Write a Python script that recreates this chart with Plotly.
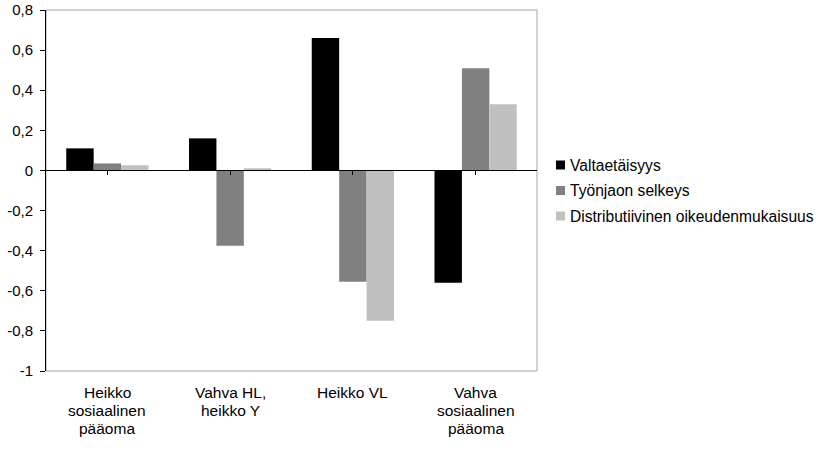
import plotly.graph_objects as go

# Categories and series values
categories = ["Heikko<br>sosiaalinen<br>pääoma", "Vahva HL,<br>heikko Y", "Heikko VL", "Vahva<br>sosiaalinen<br>pääoma"]
series_names = ["Valtaetäisyys", "Työnjaon selkeys", "Distributiivinen oikeudenmukaisuus"]
valtaetaisyys = [0.11, 0.16, 0.66, -0.56]
tyonjaon_selkeys = [0.035, -0.375, -0.555, 0.51]
distributiivinen = [0.026, 0.011, -0.75, 0.33]
series_values = [valtaetaisyys, tyonjaon_selkeys, distributiivinen]
series_colors = ["#000000", "#808080", "#c0c0c0"]

y_tickvals = [0.8, 0.6, 0.4, 0.2, 0, -0.2, -0.4, -0.6, -0.8, -1]
y_ticktext = ["0,8", "0,6", "0,4", "0,2", "0", "-0,2", "-0,4", "-0,6", "-0,8", "-1"]

W, H = 822, 451
L, R, T, B = 46, 537, 10, 371
y_range = [-1, 0.8]
FONT = "Liberation Sans, Arial, sans-serif"
LABEL_LINE_GAP = 18


def px_x(x):
    return (x - L) / (R - L)


def px_y(y):
    return (B - y) / (B - T)


cat_idx = list(range(len(categories)))

fig = go.Figure()
for name, vals, col in zip(series_names, series_values, series_colors):
    fig.add_trace(go.Bar(x=cat_idx, y=vals, name=name, marker=dict(color=col, line=dict(width=0)),
                         showlegend=False))

# Grey frame around the plot area
fig.add_shape(type="rect", xref="paper", yref="paper", x0=0, x1=1, y0=0, y1=1,
              line=dict(color="#a6a6a6", width=1), layer="below")

# Category labels below the plot area, one annotation per text line
for i, c in enumerate(categories):
    for k, line in enumerate(c.split("<br>")):
        fig.add_annotation(x=i, y=0, xref="x", yref="paper", text=line, showarrow=False,
                           xanchor="center", yanchor="middle",
                           yshift=-(21 + k * LABEL_LINE_GAP),
                           font=dict(family=FONT, size=15.5, color="#000000"))

# Legend drawn to the right of the plot
row_y = [165, 190.5, 216]
for name, col, ry in zip(series_names, series_colors, row_y):
    fig.add_shape(type="rect", xref="paper", yref="paper",
                  x0=px_x(556), x1=px_x(565), y0=px_y(ry + 4.5), y1=px_y(ry - 4.5),
                  line=dict(width=0), fillcolor=col)
    fig.add_annotation(x=px_x(568), y=px_y(ry), xref="paper", yref="paper", text=name,
                       showarrow=False, xanchor="left", yanchor="middle",
                       font=dict(family=FONT, size=15.6, color="#000000"))

zero_pos = (0 - y_range[0]) / (y_range[1] - y_range[0])

fig.update_layout(
    width=W, height=H,
    margin=dict(l=L, r=W - R, t=T, b=H - B, pad=0, autoexpand=False),
    paper_bgcolor="#ffffff", plot_bgcolor="#ffffff",
    barmode="group", bargap=0.33, bargroupgap=0,
    showlegend=False,
    font=dict(family=FONT, size=15, color="#000000"),
    xaxis=dict(range=[-0.5, 3.5], anchor="free", position=zero_pos, automargin=False,
               showline=True, linecolor="#000000", linewidth=1,
               ticks="outside", ticklen=4, tickcolor="#000000", tickson="boundaries",
               tickvals=cat_idx, showticklabels=False, showgrid=False, zeroline=False),
    yaxis=dict(range=y_range, tickvals=y_tickvals, ticktext=y_ticktext, automargin=False,
               showline=True, linecolor="#000000", linewidth=1,
               ticks="outside", ticklen=5, tickcolor="#000000", ticklabelstandoff=4,
               showgrid=False, zeroline=False, tickfont=dict(size=15)),
)

fig.write_html("out.html")
